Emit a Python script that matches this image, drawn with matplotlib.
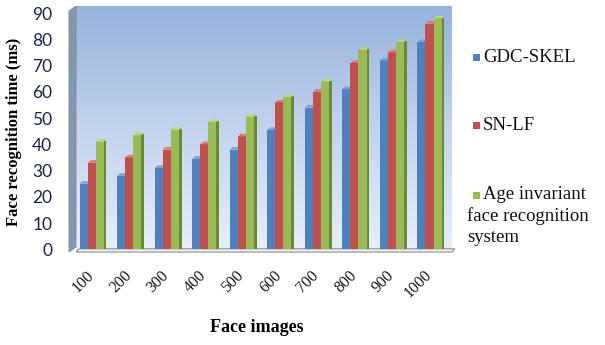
import numpy as np
import matplotlib
matplotlib.use("Agg")
import matplotlib.pyplot as plt
from matplotlib.patches import Polygon, Rectangle
from matplotlib.colors import LinearSegmentedColormap
from matplotlib.transforms import IdentityTransform, ScaledTranslation

# Data
categories = ["100", "200", "300", "400", "500", "600", "700", "800", "900", "1000"]
gdc_skel = [25, 28, 31, 34.5, 38, 45.5, 54, 61, 72, 79]
sn_lf = [33, 35, 38, 40, 43, 56, 60, 71, 75, 86]
age_inv = [41, 43.5, 45.5, 48.5, 50.5, 58, 64, 76, 79, 88]
series_names = ["GDC-SKEL", "SN-LF", "Age invariant\nface recognition\nsystem"]
y_ticks = list(range(0, 100, 10))

face_cols = ["#4f81bd", "#c0504d", "#9bbb59"]
side_cols = ["#2f5a8f", "#8e2f2d", "#6a8a35"]
top_cols = ["#7aa3d6", "#e07a77", "#b9d680"]

plt.rcParams["font.family"] = ["Liberation Serif", "DejaVu Serif"]

fig = plt.figure(figsize=(6.05, 3.45), dpi=100)
W, H = 605, 345
ax_l, ax_r, ax_t, ax_b = 76, 452, 6, 252
ax = fig.add_axes([ax_l / W, 1 - ax_b / H, (ax_r - ax_l) / W, (ax_b - ax_t) / H])

ymin, ymax = -1, 92.7
xmin, xmax = -0.42, 9.6
ax.set_xlim(xmin, xmax)
ax.set_ylim(ymin, ymax)

# Gradient back wall
wall_cmap = LinearSegmentedColormap.from_list("wall", ["#e8eff9", "#c4d4ee", "#97b2dc"])
grad = np.linspace(0, 1, 256).reshape(-1, 1)
ax.imshow(grad, aspect="auto", cmap=wall_cmap, origin="lower",
          extent=[xmin, xmax, ymin, ymax], zorder=0)

# Floor
floor = Polygon([[xmin, ymin], [xmax, ymin], [xmax + 0.08, ymin + 1.2], [xmin + 0.08, ymin + 1.2]],
                closed=True, facecolor="#f4f6fa", edgecolor="#8a8a8a", lw=0.8, zorder=1,
                clip_on=False)
ax.add_patch(floor)

x = np.arange(len(categories))
w = 0.215
offsets = [-w, 0, w]
side_w = 0.075
for vals, off, fc, sc, tc in zip([gdc_skel, sn_lf, age_inv], offsets, face_cols, side_cols, top_cols):
    xs = x + off
    # side face on the right of each bar
    ax.bar(xs + w / 2 + side_w / 2 - 0.005, vals, width=side_w, bottom=0.3, color=sc,
           edgecolor="none", zorder=2)
    # front face
    ax.bar(xs, vals, width=w, color=fc, edgecolor="none", zorder=3)
    # cap on top
    for xi, v in zip(xs, vals):
        cap = Polygon([[xi - w / 2, v], [xi + w / 2, v], [xi + w / 2 + side_w, v + 1.0],
                       [xi - w / 2 + side_w, v + 1.0]], closed=True, facecolor=tc,
                      edgecolor="none", zorder=3)
        ax.add_patch(cap)

for s in ax.spines.values():
    s.set_visible(False)

ax.set_yticks(y_ticks)
ax.set_yticklabels([str(t) for t in y_ticks], fontsize=12.5, color="#1b2444",
                   family=["Lato", "DejaVu Sans"])
ax.tick_params(axis="y", length=0, pad=17)
ax.set_xticks(x)
ax.set_xticklabels(categories, rotation=45, ha="right", va="top", fontsize=11.5,
                   color="#1a1a1a", rotation_mode="anchor")
ax.tick_params(axis="x", length=0, pad=11)
shift = ScaledTranslation(-6 / 100, 0, fig.dpi_scale_trans)
for lbl in ax.get_xticklabels():
    lbl.set_transform(lbl.get_transform() + shift)

# Left side wall
left_wall = Polygon([[69, H - 252], [76, H - 247], [76, H - 6], [69, H - 11]], closed=True,
                    facecolor="#8797ae", edgecolor="#7d8799", lw=0.6,
                    transform=IdentityTransform(), zorder=0)
fig.patches.append(left_wall)

ax.set_ylabel("Face recognition time (ms)", fontsize=12, fontweight="bold")
ax.yaxis.set_label_coords((22 - ax_l) / (ax_r - ax_l), 0.49)
ax.set_xlabel("Face images", fontsize=13, fontweight="bold")
ax.xaxis.set_label_coords((257 - ax_l) / (ax_r - ax_l), (ax_b - 319) / (ax_b - ax_t))

# Legend, drawn as swatches and text; wrapped lines start under the swatch
legend_y = [57, 125, 195]
line_step = 21
for name, col, yc in zip(series_names, face_cols, legend_y):
    fig.patches.append(Rectangle((473, H - yc - 3.5), 7, 7, facecolor=col, edgecolor="none",
                                 transform=IdentityTransform()))
    for i, line in enumerate(name.split("\n")):
        xl = 483 if i == 0 else 467
        fig.text(xl / W, 1 - (yc + i * line_step) / H, line, fontsize=13.5,
                 va="center", ha="left", color="#111111")

fig.savefig("out.png", dpi=100)
